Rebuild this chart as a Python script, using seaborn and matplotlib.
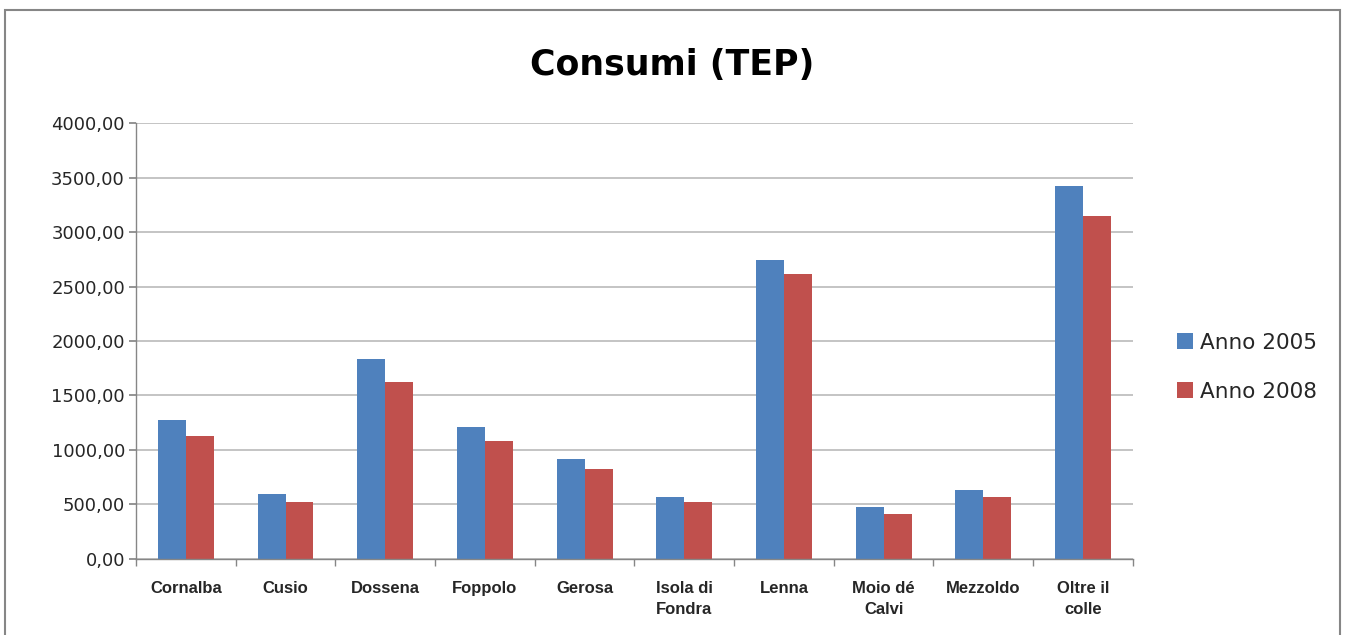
import pandas as pd
import matplotlib.pyplot as plt
import matplotlib.ticker as mticker
from matplotlib.patches import Rectangle
import seaborn as sns

# ─── DATA ─────────────────────────────────────────────────────────────────────
comuni = ["Cornalba", "Cusio", "Dossena", "Foppolo", "Gerosa",
          "Isola di\nFondra", "Lenna", "Moio dé\nCalvi", "Mezzoldo", "Oltre il\ncolle"]
anno_2005 = [1270, 597, 1833, 1209, 918, 572, 2745, 480, 633, 3424]
anno_2008 = [1126, 526, 1619, 1080, 823, 517, 2619, 413, 566, 3149]
serie = ["Anno 2005", "Anno 2008"]
y_ticks = [0, 500, 1000, 1500, 2000, 2500, 3000, 3500, 4000]

df = pd.DataFrame({
    "comune": comuni * 2,
    "valore": anno_2005 + anno_2008,
    "serie": [serie[0]] * len(comuni) + [serie[1]] * len(comuni),
})

# ─── STYLE ────────────────────────────────────────────────────────────────────
sns.set_theme(style="white")
plt.rcParams["font.family"] = ["DejaVu Sans"]
COLORS = {"Anno 2005": "#4F81BD", "Anno 2008": "#C0504D"}
GRID = "#BFBFBF"

fig = plt.figure(figsize=(13.47, 6.35), dpi=100)
ax = fig.add_axes([0.101, 0.12, 0.740, 0.686])

sns.barplot(data=df, x="comune", y="valore", hue="serie", palette=COLORS,
            width=0.56, ax=ax, legend=True, saturation=1, linewidth=0)

ax.set_ylim(0, 4000)
ax.set_xlim(-0.5, len(comuni) - 0.5)
ax.set_yticks(y_ticks)
ax.yaxis.set_major_formatter(mticker.FuncFormatter(lambda v, _: f"{v:.2f}".replace(".", ",")))
ax.yaxis.grid(True, color=GRID, linewidth=1.3)
ax.set_axisbelow(True)
ax.set_xlabel("")
ax.set_ylabel("")

for s in ["top", "right"]:
    ax.spines[s].set_visible(False)
for s in ["left", "bottom"]:
    ax.spines[s].set_color("#868686")
    ax.spines[s].set_linewidth(1.0)

ax.tick_params(axis="y", which="major", left=True, length=5, color="#868686",
               labelsize=13, labelcolor="#262626", pad=3)
ax.tick_params(axis="x", which="major", bottom=False, labelsize=12, pad=10)
ax.xaxis.set_minor_locator(mticker.FixedLocator([i + 0.5 for i in range(-1, len(comuni))]))
ax.tick_params(axis="x", which="minor", bottom=True, length=5, color="#868686")
for lbl in ax.get_xticklabels():
    lbl.set_fontweight("bold")
    lbl.set_family(["Liberation Sans", "DejaVu Sans"])
    lbl.set_color("#262626")
    lbl.set_linespacing(1.5)

leg = ax.legend(loc="center left", bbox_to_anchor=(1.025, 0.44), frameon=False,
                fontsize=15.5, handlelength=0.75, handleheight=0.75, handletextpad=0.3,
                labelspacing=1.35)
for t in leg.get_texts():
    t.set_color("#262626")

fig.text(0.499, 0.897, "Consumi (TEP)", ha="center", va="center",
         fontsize=25, fontweight="bold", color="black")

fig.patches.append(Rectangle((0.004, -0.01), 0.991, 0.995, transform=fig.transFigure,
                             fill=False, edgecolor="#868686", linewidth=1.5))

fig.savefig("out.png", dpi=100, facecolor="white")
